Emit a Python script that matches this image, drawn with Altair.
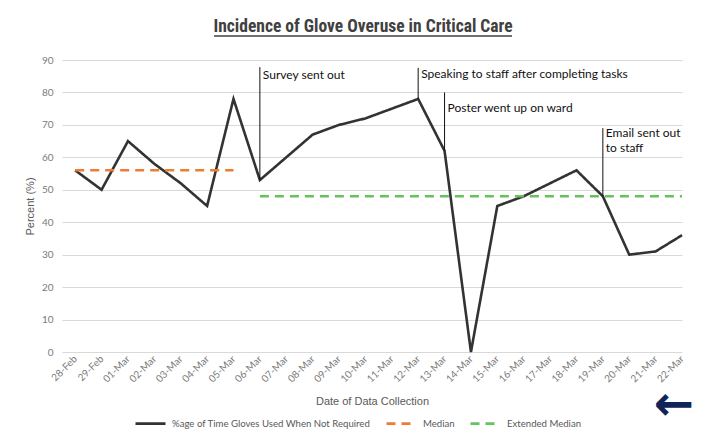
import altair as alt
import pandas as pd
import json

# ---------------- data ----------------
dates = ["28-Feb", "29-Feb", "01-Mar", "02-Mar", "03-Mar", "04-Mar", "05-Mar",
         "06-Mar", "07-Mar", "08-Mar", "09-Mar", "10-Mar", "11-Mar", "12-Mar",
         "13-Mar", "14-Mar", "15-Mar", "16-Mar", "17-Mar", "18-Mar", "19-Mar",
         "20-Mar", "21-Mar", "22-Mar"]
pct = [56, 50, 65, 58, 52, 45, 78, 53, 60, 67, 70, 72, 75, 78,
       62, 0, 45, 48, 52, 56, 48, 30, 31, 36]

series_names = ["%age of Time Gloves Used When Not Required", "Median", "Extended Median"]
series_colors = ["#333333", "#ED7D31", "#63C45A"]

median_value = 56
median_dates = ["28-Feb", "05-Mar"]
ext_median_value = 48
ext_median_dates = ["06-Mar", "22-Mar"]

ann_labels = ["Survey sent out", "Speaking to staff after completing tasks",
              "Poster went up on ward", "Email sent out\nto staff"]
ann_dates = ["06-Mar", "12-Mar", "13-Mar", "19-Mar"]
ann_top = [87.8, 87.6, 80.0, 69.0]
ann_text_y = [84.2, 84.4, 74.0, 66.3]

title_text = "Incidence of Glove Overuse in Critical Care"

# ---------------- tables ----------------
rows = []
for d, v in zip(dates, pct):
    rows.append({"idx": dates.index(d), "value": v, "series": series_names[0]})
for d in median_dates:
    rows.append({"idx": dates.index(d), "value": median_value, "series": series_names[1]})
for d in ext_median_dates:
    rows.append({"idx": dates.index(d), "value": ext_median_value, "series": series_names[2]})
df = pd.DataFrame(rows)

ann = pd.DataFrame({
    "idx": [dates.index(d) for d in ann_dates],
    "bottom": [pct[dates.index(d)] for d in ann_dates],
    "top": ann_top,
    "ty": ann_text_y,
    "label": ann_labels,
})

label_expr = json.dumps(dates) + "[datum.value]"

x_scale = alt.Scale(domain=[-0.5, 23], nice=False, zero=False)
y_scale = alt.Scale(domain=[0, 90], nice=False)

x_axis = alt.Axis(values=list(range(len(dates))), labelExpr=label_expr,
                  labelAngle=-45, labelAlign="right", labelBaseline="middle",
                  labelOverlap=False,
                  labelPadding=5, grid=False, ticks=False, domain=False,
                  labelFont="Lato", labelFontSize=10, labelColor="#7a7a7a",
                  title="Date of Data Collection", titleFont="Liberation Sans",
                  titleFontSize=11, titleFontWeight="normal", titleColor="#595959",
                  titlePadding=12)
y_axis = alt.Axis(values=list(range(0, 91, 10)), grid=True, gridColor="#d9d9d9",
                  gridWidth=1, ticks=False, domain=False, labelPadding=9,
                  labelOverlap=False,
                  labelFont="Lato", labelFontSize=10, labelColor="#7a7a7a",
                  title="Percent (%)", titleFont="Liberation Sans", titleFontSize=11,
                  titleFontWeight="normal", titleColor="#595959", titlePadding=6)

legend_cfg = dict(title=None, orient="none", legendX=72, legendY=347,
                  direction="horizontal", symbolType="stroke",
                  symbolSize=900, symbolStrokeWidth=2.6,
                  labelFont="Lato", labelFontSize=9.6, labelColor="#595959",
                  labelLimit=400, columnPadding=10, labelOffset=5, padding=0)

lines = alt.Chart(df).mark_line(strokeWidth=2.6, strokeMiterLimit=4).encode(
    x=alt.X("idx:Q", scale=x_scale, axis=x_axis),
    y=alt.Y("value:Q", scale=y_scale, axis=y_axis),
    color=alt.Color("series:N", scale=alt.Scale(domain=series_names, range=series_colors),
                    legend=alt.Legend(**legend_cfg)),
    strokeDash=alt.StrokeDash("series:N",
                              scale=alt.Scale(domain=series_names, range=[[1, 0], [9, 6], [9, 6]]),
                              legend=alt.Legend(**legend_cfg)),
)

ann_rules = alt.Chart(ann).mark_rule(color="#111111", strokeWidth=1).encode(
    x=alt.X("idx:Q", scale=x_scale, axis=x_axis),
    y=alt.Y("bottom:Q", scale=y_scale, axis=y_axis),
    y2="top:Q",
)

ann_texts = alt.Chart(ann).mark_text(align="left", baseline="alphabetic", dx=3,
                                     font="Lato", fontSize=12, color="#111111",
                                     lineBreak="\n", lineHeight=15.5).encode(
    x=alt.X("idx:Q", scale=x_scale, axis=x_axis),
    y=alt.Y("ty:Q", scale=y_scale, axis=y_axis),
    text="label:N",
)

title_df = pd.DataFrame({"t": [title_text]})
title = alt.Chart(title_df).mark_text(font="'Liberation Sans Narrow', 'Roboto Condensed', Lato",
                                      fontSize=17.5, fontWeight="bold", color="#404040",
                                      baseline="alphabetic", align="center").encode(
    x=alt.value(301), y=alt.value(-28), text="t:N")
underline = alt.Chart(title_df).mark_rule(color="#404040", strokeWidth=1.6).encode(
    x=alt.value(152), x2=alt.value(450), y=alt.value(-24))

arrow = alt.Chart(pd.DataFrame({"a": ["\u2190"]})).mark_text(
    font="DejaVu Sans", fontSize=48, fontWeight="bold", color="#0F2557",
    align="left", baseline="middle").encode(x=alt.value(592), y=alt.value(346), text="a:N")

chart = alt.layer(lines, ann_rules, ann_texts, title, underline, arrow).properties(
    width=620, height=292,
    padding={"left": 54, "top": 52, "right": 16, "bottom": 80},
    autosize=alt.AutoSizeParams(type="none"),
).configure_view(stroke=None)

chart.save("out.html", embed_options={"renderer": "svg", "actions": False})
